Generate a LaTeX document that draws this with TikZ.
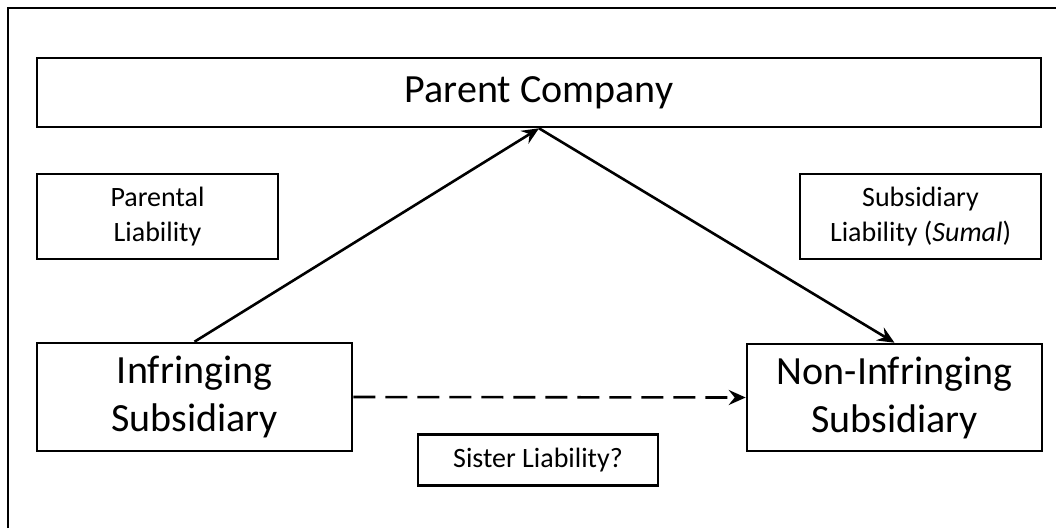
\documentclass[tikz,border=0pt]{standalone}
\usepackage{fontspec}
\setmainfont{Carlito}
\usetikzlibrary{arrows.meta}
\begin{document}
\begin{tikzpicture}[x=1pt,y=-1pt,
  box/.style={draw=black,line width=2.6pt,inner sep=0pt,align=center,text=black},
  bigtext/.style={font=\fontsize{40}{48}\selectfont},
  smalltext/.style={font=\fontsize{28}{35}\selectfont},
  conn/.style={line width=2.6pt,-{Stealth[length=17pt,width=15pt,inset=6pt]}},
  dashconn/.style={conn,dash pattern=on 22pt off 10pt}]
\useasboundingbox (0,0) rectangle (1056,528);
\draw[line width=2.2pt] (8,528) -- (8,8) -- (1056,8);
\node[box,bigtext,minimum width=1004pt,minimum height=69pt] (parent) at (539,92.5) {\raisebox{5pt}{Parent Company}};
\node[box,smalltext,minimum width=241pt,minimum height=85pt] (parental) at (157.5,216.5) {Parental\\Liability};
\node[box,smalltext,minimum width=241pt,minimum height=85pt] (subs) at (920.5,216.5) {Subsidiary\\Liability (\textit{Sumal})};
\node[box,bigtext,minimum width=315pt,minimum height=108pt] (infr) at (194.5,397) {Infringing\\Subsidiary};
\node[box,bigtext,minimum width=295pt,minimum height=107pt] (noninf) at (894.5,397.5) {Non-Infringing\\Subsidiary};
\node[box,smalltext,minimum width=240pt,minimum height=51pt] (sister) at (538,460) {Sister Liability?};
\draw[conn] (infr.north) -- (parent.south);
\draw[conn] (parent.south) -- (noninf.north);
\draw[dashconn] (infr.east) -- (noninf.west);
\end{tikzpicture}
\end{document}
